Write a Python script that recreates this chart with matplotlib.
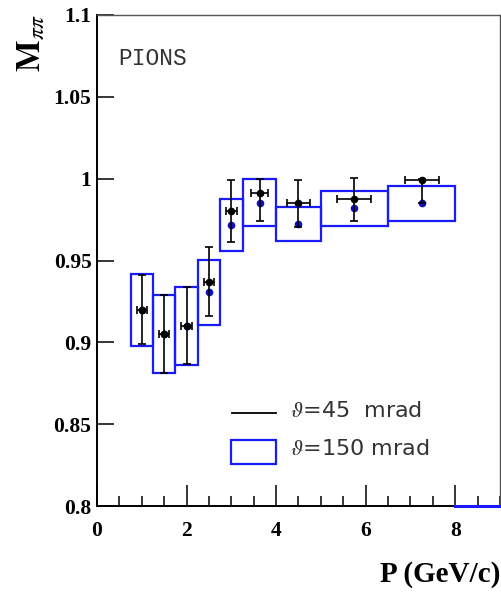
import numpy as np
import matplotlib.pyplot as plt
from matplotlib.patches import Rectangle

plt.rcParams['mathtext.fontset'] = 'stix'

# theta = 45 mrad (black points)
p45 = np.array([1.0, 1.5, 2.0, 2.5, 3.0, 3.63, 4.5, 5.74, 7.25])
m45 = np.array([0.920, 0.905, 0.910, 0.937, 0.980, 0.991, 0.985, 0.9875, 0.999])
dp45 = np.array([0.11, 0.11, 0.12, 0.12, 0.13, 0.19, 0.25, 0.375, 0.38])
m45_lo = np.array([0.021, 0.024, 0.0235, 0.021, 0.019, 0.017, 0.0147, 0.0134, 0.014])
m45_hi = np.array([0.021, 0.024, 0.0238, 0.021, 0.019, 0.009, 0.0143, 0.0127, 0.001])

# theta = 150 mrad (blue boxes)
edges150 = np.array([0.75, 1.25, 1.75, 2.25, 2.75, 3.25, 4.0, 5.0, 6.5, 8.0])
m150 = np.array([0.920, 0.905, 0.910, 0.9305, 0.9715, 0.9853, 0.9722, 0.9818, 0.9849])
dm150 = np.array([0.022, 0.024, 0.0237, 0.020, 0.016, 0.0143, 0.0103, 0.0108, 0.0108])
overflow_bin = [8.0, 9.0]

fig = plt.figure(figsize=(5.02, 5.92), dpi=100)
ax = fig.add_axes([97/502, 1-506/592, 403/502, 491/592])

for i in range(len(m150)):
    ax.add_patch(Rectangle((edges150[i], m150[i]-dm150[i]), edges150[i+1]-edges150[i],
                           2*dm150[i], fill=False, edgecolor='#1a1aff', lw=1.6, zorder=2))
ax.plot(overflow_bin, [0.8, 0.8], color='#1a1aff', lw=2.2, clip_on=False, zorder=5)

# blue dots sit at the point momentum
ax.plot(p45, m150, 'o', color='#1010c0', ms=4.5, zorder=3)
ax.errorbar(p45, m45, xerr=dp45, yerr=[m45_lo, m45_hi], fmt='o', color='black',
            ms=4.5, elinewidth=1.2, capsize=3, capthick=1.2, zorder=4)

ax.set_xlim(0, 9)
ax.set_ylim(0.8, 1.1)
ax.set_xticks([0, 2, 4, 6, 8])
ax.set_xticks(np.arange(0, 9.01, 0.5), minor=True)
ax.set_yticks([0.8, 0.85, 0.9, 0.95, 1.0, 1.05, 1.1])
ax.set_yticklabels(['0.8', '0.85', '0.9', '0.95', '1', '1.05', '1.1'])
ax.tick_params(axis='x', which='major', direction='in', length=15, width=1.1, pad=11)
ax.tick_params(axis='x', which='minor', direction='in', length=7, width=1.1)
ax.tick_params(axis='y', which='major', direction='in', length=12, width=1.1, pad=4)
for lab in ax.get_xticklabels() + ax.get_yticklabels():
    lab.set_fontfamily('Liberation Serif')
    lab.set_fontweight('bold')
    lab.set_fontsize(15.5)
for s in ['left', 'bottom']:
    ax.spines[s].set_linewidth(1.4)
for s in ['top', 'right']:
    ax.spines[s].set_linewidth(1.0)
    ax.spines[s].set_color('#555555')

# legend drawn by hand
ax.plot([0.335, 0.444], [0.1894, 0.1894], transform=ax.transAxes, color='black', lw=1.3)
ax.add_patch(Rectangle((0.3325, 0.0855), 0.1117, 0.049, transform=ax.transAxes,
                       fill=False, edgecolor='#1a1aff', lw=1.6))
ax.text(0.479, 0.1935, r'$\vartheta$=45  mrad', transform=ax.transAxes, fontsize=16,
        color='#333333', va='center', ha='left', family='DejaVu Sans')
ax.text(0.479, 0.116, r'$\vartheta$=150 mrad', transform=ax.transAxes, fontsize=16,
        color='#333333', va='center', ha='left', family='DejaVu Sans')
ax.text(0.052, 0.912, 'PIONS', transform=ax.transAxes, fontsize=16.5,
        family='Liberation Mono', color='#333333', va='center', ha='left')

fig.text(30/502, 1-14/592, r'$\mathbf{M}_{\pi\pi}$', rotation=90, fontsize=24,
         ha='center', va='top')
fig.text(500/502, 1-575/592, 'P (GeV/c)', fontsize=21, fontweight='bold',
         family='Liberation Serif', ha='right', va='center')

fig.savefig('out.png', dpi=100)
